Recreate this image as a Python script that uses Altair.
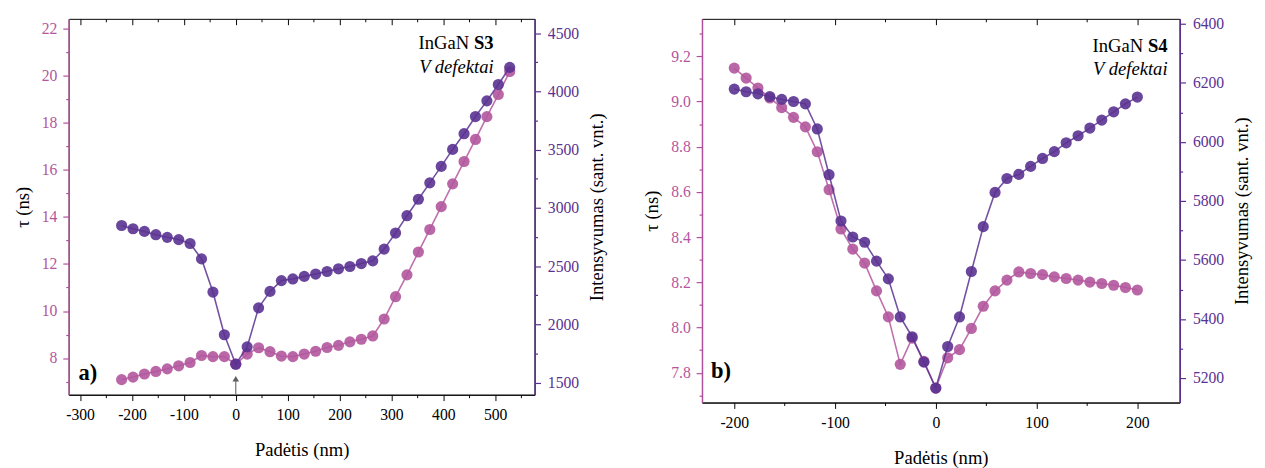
import altair as alt
import pandas as pd

PINK = "#B3569D"
PURPLE = "#5A3291"
PINK_AX = "#B0509A"
PURPLE_AX = "#5A2D8E"
FONT = "Liberation Serif"

# ---------------- panel a) InGaN S3 ----------------
pos_a = [-220, -198, -176, -154, -132, -110, -88, -66, -44, -22, 0, 22, 44, 66, 88, 110,
         132, 154, 176, 198, 220, 242, 264, 286, 308, 330, 352, 374, 396, 418, 440, 462,
         484, 506, 528]
tau_a = [7.08, 7.19, 7.32, 7.43, 7.54, 7.67, 7.81, 8.11, 8.06, 8.06, 7.74, 8.17, 8.44, 8.27,
         8.08, 8.06, 8.17, 8.29, 8.45, 8.54, 8.69, 8.80, 8.94, 9.66, 10.61, 11.54, 12.51,
         13.47, 14.44, 15.41, 16.36, 17.30, 18.27, 19.21, 20.19]
int_a = [2849, 2821, 2798, 2770, 2747, 2728, 2694, 2562, 2277, 1911, 1658, 1807, 2142, 2283,
         2376, 2390, 2412, 2432, 2454, 2477, 2497, 2522, 2545, 2646, 2784, 2933, 3074, 3215,
         3356, 3502, 3637, 3784, 3919, 4059, 4206]

# ---------------- panel b) InGaN S4 ----------------
pos_b = [-200.0, -188.2, -176.5, -164.7, -152.9, -141.2, -129.4, -117.6, -105.9, -94.1,
         -82.4, -70.6, -58.8, -47.1, -35.3, -23.5, -11.8, 0.0, 11.8, 23.5, 35.3, 47.1, 58.8,
         70.6, 82.4, 94.1, 105.9, 117.6, 129.4, 141.2, 152.9, 164.7, 176.5, 188.2, 200.0]
tau_b = [9.148, 9.104, 9.060, 9.016, 8.973, 8.930, 8.888, 8.778, 8.610, 8.436, 8.347, 8.285,
         8.162, 8.047, 7.837, 7.953, 7.850, 7.732, 7.866, 7.902, 7.996, 8.094, 8.162, 8.210,
         8.246, 8.239, 8.234, 8.224, 8.217, 8.210, 8.201, 8.195, 8.187, 8.177, 8.166]
int_b = [6179, 6170, 6163, 6154, 6144, 6137, 6129, 6044, 5889, 5732, 5678, 5660, 5596, 5536,
         5407, 5340, 5254, 5166, 5307, 5407, 5561, 5713, 5829, 5876, 5890, 5917, 5944, 5967,
         5997, 6021, 6047, 6074, 6102, 6129, 6152]

# axis tick values
xmaj_a = [-300, -200, -100, 0, 100, 200, 300, 400, 500]
xmin_a = [-250, -150, -50, 50, 150, 250, 350, 450, 550]
tmaj_a = [8, 10, 12, 14, 16, 18, 20, 22]
tmin_a = [7, 9, 11, 13, 15, 17, 19, 21]
imaj_a = [1500, 2000, 2500, 3000, 3500, 4000, 4500]
imin_a = [1750, 2250, 2750, 3250, 3750, 4250]

xmaj_b = [-200, -100, 0, 100, 200]
xmin_b = [-150, -50, 50, 150]
tmaj_b = [7.8, 8.0, 8.2, 8.4, 8.6, 8.8, 9.0, 9.2]
tmin_b = [7.7, 7.9, 8.1, 8.3, 8.5, 8.7, 8.9, 9.1, 9.3]
imaj_b = [5200, 5400, 5600, 5800, 6000, 6200, 6400]
imin_b = [5300, 5500, 5700, 5900, 6100, 6300]

# annotations (data coordinates)
ann_a = {"x": 497, "y1": 21.38, "y2": 20.37, "sample": "S3", "lx": -303, "ly": 7.36, "label": "a)"}
ann_b = {"x": 230, "y1": 9.244, "y2": 9.143, "sample": "S4", "lx": -223, "ly": 7.809, "label": "b)"}
arrow_x = [0, 0]
arrow_tau = [6.45, 7.12]


def panel(pos, tau, inten, xdom, xmaj, xmin, tdom, tmaj, tmin, tfmt, idom, imaj, imin,
          width, height, ann, arrow=False):
    df = pd.DataFrame({"pos": pos, "tau": tau, "int": inten})
    xs = alt.Scale(domain=xdom, nice=False, zero=False)
    ts = alt.Scale(domain=tdom, nice=False, zero=False)
    iscale = alt.Scale(domain=idom, nice=False, zero=False)

    ax_bot = alt.Axis(orient="bottom", values=xmaj, tickSize=6, labelFontSize=16,
                      labelExpr="'' + datum.value",
                      labelColor="black", domainColor="black", tickColor="black",
                      title="Padėtis (nm)", titleFontSize=19, titleFontWeight="normal",
                      titleColor="black", grid=False, labelPadding=6, titlePadding=19,
                      labelFont=FONT, titleFont=FONT)
    ax_bot_min = alt.Axis(orient="bottom", values=xmin, tickSize=3, labels=False,
                          domain=False, tickColor="black", title=None, grid=False)
    ax_top = alt.Axis(orient="top", values=xmaj, tickSize=6, offset=-6, labels=False,
                      domain=False, tickColor="black", title=None, grid=False)
    ax_top_min = alt.Axis(orient="top", values=xmin, tickSize=3, offset=-3, labels=False,
                          domain=False, tickColor="black", title=None, grid=False)

    ax_left = alt.Axis(orient="left", values=tmaj, tickSize=6, format=tfmt, labelFontSize=16,
                       labelColor=PINK, domainColor=PINK_AX, tickColor=PINK_AX, domainWidth=1.5,
                       tickWidth=1.2, title="τ (ns)", titleFontSize=19, titleFontWeight="normal",
                       titleColor="black", grid=False, labelPadding=6, titlePadding=9,
                       labelFont=FONT, titleFont=FONT)
    ax_left_min = alt.Axis(orient="left", values=tmin, tickSize=3, labels=False, domain=False,
                           tickColor=PINK_AX, tickWidth=1.2, title=None, grid=False)
    ax_right = alt.Axis(orient="right", values=imaj, tickSize=6, format="d", labelFontSize=16,
                        labelColor=PURPLE, domainColor=PURPLE_AX, tickColor=PURPLE_AX,
                        domainWidth=1.5, tickWidth=1.2, title="Intensyvumas (sant. vnt.)",
                        titleFontSize=19, titleFontWeight="normal", titleColor="black",
                        titleAngle=270, titleBaseline="top", grid=False, labelPadding=7,
                        titlePadding=9, labelFont=FONT, titleFont=FONT)
    ax_right_min = alt.Axis(orient="right", values=imin, tickSize=3, labels=False, domain=False,
                            tickColor=PURPLE_AX, tickWidth=1.2, title=None, grid=False)

    base = alt.Chart(df)
    pink_line = base.mark_line(color=PINK, strokeWidth=1.6, opacity=0.85).encode(
        x=alt.X("pos:Q", scale=xs, axis=ax_bot),
        y=alt.Y("tau:Q", scale=ts, axis=ax_left),
    )
    pink_pts = base.mark_circle(color=PINK, size=130, opacity=0.9).encode(
        x=alt.X("pos:Q", scale=xs, axis=ax_bot_min),
        y=alt.Y("tau:Q", scale=ts, axis=ax_left_min),
    )
    t1 = alt.Chart(pd.DataFrame({"x": [ann["x"]], "y": [ann["y1"]], "t": ["InGaN"]})).mark_text(
        font=FONT, fontSize=19, align="right", baseline="middle", dx=-25, color="black"
    ).encode(x=alt.X("x:Q", scale=xs, axis=ax_top), y=alt.Y("y:Q", scale=ts, axis=None), text="t:N")
    t2 = alt.Chart(pd.DataFrame({"x": [ann["x"]], "y": [ann["y1"]], "t": [ann["sample"]]})).mark_text(
        font=FONT, fontSize=19, fontWeight="bold", align="right", baseline="middle", color="black"
    ).encode(x=alt.X("x:Q", scale=xs, axis=ax_top_min), y=alt.Y("y:Q", scale=ts, axis=None), text="t:N")
    t3 = alt.Chart(pd.DataFrame({"x": [ann["x"]], "y": [ann["y2"]], "t": ["V defektai"]})).mark_text(
        font=FONT, fontSize=19, fontStyle="italic", align="right", baseline="middle", color="black"
    ).encode(x=alt.X("x:Q", scale=xs, axis=None), y=alt.Y("y:Q", scale=ts, axis=None), text="t:N")
    t4 = alt.Chart(pd.DataFrame({"x": [ann["lx"]], "y": [ann["ly"]], "t": [ann["label"]]})).mark_text(
        font=FONT, fontSize=23, fontWeight="bold", align="left", baseline="middle", color="black"
    ).encode(x=alt.X("x:Q", scale=xs, axis=None), y=alt.Y("y:Q", scale=ts, axis=None), text="t:N")

    layers = [pink_line, pink_pts, t1, t2, t3, t4]
    if arrow:
        adf = pd.DataFrame({"x": [arrow_x[0]], "y": [arrow_tau[0]], "y2": [arrow_tau[1]]})
        rule = alt.Chart(adf).mark_rule(color="#707070", strokeWidth=1.2).encode(
            x=alt.X("x:Q", scale=xs, axis=None),
            y=alt.Y("y:Q", scale=ts, axis=None), y2="y2:Q")
        head = alt.Chart(adf).mark_point(shape="triangle-up", filled=True, size=45,
                                         color="#606060", opacity=1).encode(
            x=alt.X("x:Q", scale=xs, axis=None),
            y=alt.Y("y2:Q", scale=ts, axis=None))
        layers += [rule, head]

    pink_group = alt.layer(*layers).resolve_axis(x="independent", y="independent")

    purple_line = base.mark_line(color=PURPLE, strokeWidth=1.6, opacity=0.85).encode(
        x=alt.X("pos:Q", scale=xs, axis=None),
        y=alt.Y("int:Q", scale=iscale, axis=ax_right),
    )
    purple_pts = base.mark_circle(color=PURPLE, size=130, opacity=0.9).encode(
        x=alt.X("pos:Q", scale=xs, axis=None),
        y=alt.Y("int:Q", scale=iscale, axis=ax_right_min),
    )
    purple_group = alt.layer(purple_line, purple_pts).resolve_axis(y="independent")

    return alt.layer(pink_group, purple_group).resolve_scale(y="independent").properties(
        width=width, height=height)


left = panel(pos_a, tau_a, int_a, [-322, 576], xmaj_a, xmin_a, [6.44, 22.43], tmaj_a, tmin_a,
             "d", [1396, 4623], imaj_a, imin_a, 476, 384, ann_a, arrow=True)
right = panel(pos_b, tau_b, int_b, [-232, 242], xmaj_b, xmin_b, [7.668, 9.366], tmaj_b, tmin_b,
              ".1f", [5117, 6417], imaj_b, imin_b, 488, 392, ann_b)

chart = alt.hconcat(left, right, spacing=36).configure(
    background="white", font=FONT, padding={"left": 5, "top": 2, "right": 5, "bottom": 5}
).configure_view(
    stroke="black", strokeWidth=1
).configure_axis(
    labelFont=FONT, titleFont=FONT
)

chart.save("out.html", embed_options={"renderer": "svg", "actions": False})
